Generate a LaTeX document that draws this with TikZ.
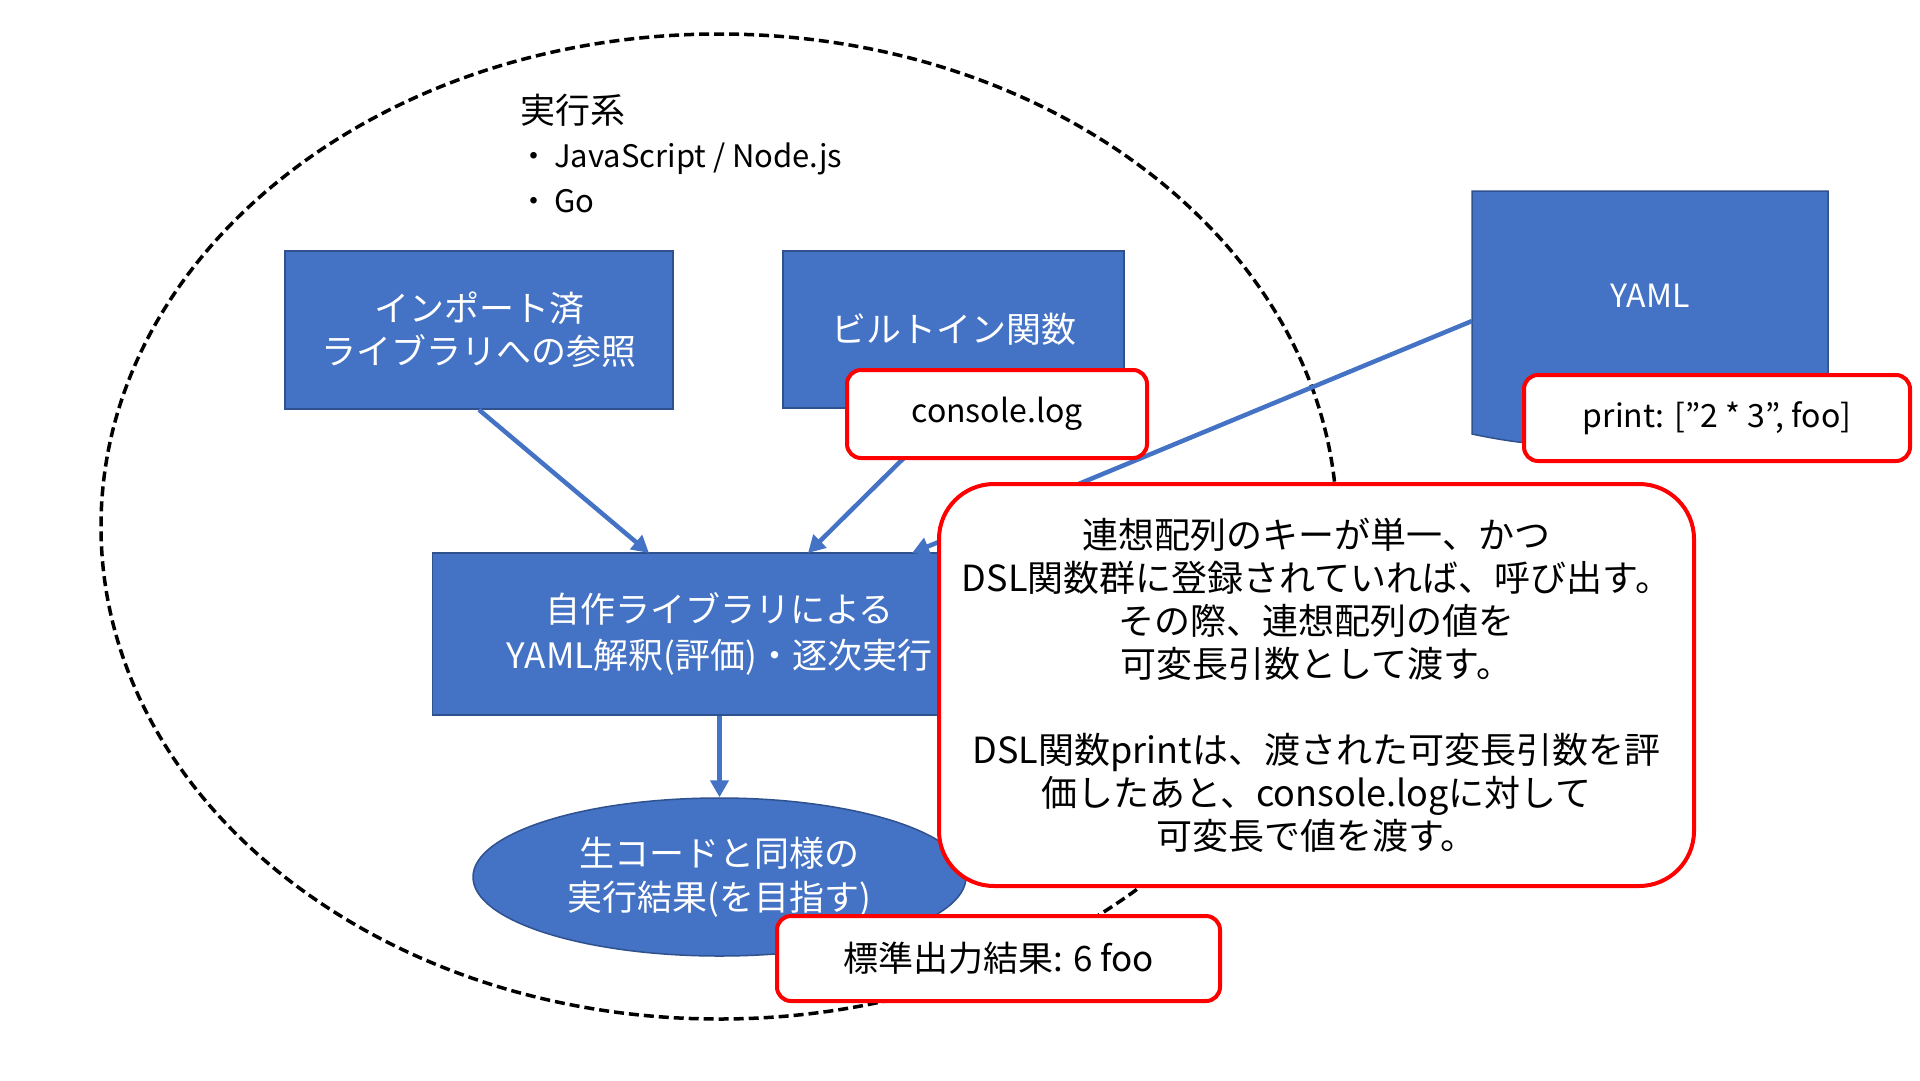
\documentclass[tikz,border=0pt]{standalone}
\usepackage{fontspec}
\setmainfont{Noto Sans CJK JP}
\usetikzlibrary{arrows.meta,shapes.geometric}
\definecolor{pblue}{HTML}{4472C4}
\definecolor{pborder}{HTML}{2F528F}
\definecolor{pred}{HTML}{FF0000}
\begin{document}
\begin{tikzpicture}[x=1pt,y=-1pt,
  bluebox/.style={draw=pborder, line width=1.5pt, fill=pblue, text=white, align=center, inner sep=0pt, font=\fontsize{35}{43}\selectfont},
  redbox/.style={draw=pred, line width=4pt, fill=white, rounded corners=14pt, align=center, inner sep=0pt, text=black},
  flow/.style={draw=pblue, line width=4.5pt, -{Triangle[length=17pt,width=18pt]}},
  plain/.style={anchor=west, inner sep=0pt, text=black},
]
\fill[white] (0,0) rectangle (1920,1080);
\useasboundingbox (0,0) rectangle (1920,1080);

% system boundary
\node[draw=black, dash pattern=on 10pt off 5pt, line width=3.5pt, ellipse, minimum width=1236pt, minimum height=985pt, inner sep=0pt] (sys) at (719,526.5) {};

% title text
\node[plain, font=\fontsize{35}{42}\selectfont] (exectitle) at (520,110) {実行系};
\node[plain, font=\fontsize{31}{40}\selectfont] (execjs) at (518,159) {\makebox[36pt][l]{・}JavaScript / Node.js};
\node[plain, font=\fontsize{31}{40}\selectfont] (execgo) at (518,201) {\makebox[36pt][l]{・}Go};

% blue boxes
\node[bluebox, minimum width=388pt, minimum height=158pt] (imp) at (479,330) {インポート済\\ライブラリへの参照};
\node[bluebox, minimum width=341pt, minimum height=157pt] (builtin) at (953.5,329.5) {ビルトイン関数};

% YAML document shape
\draw[draw=pborder, fill=pblue, line width=1.5pt] (1472,191) -- (1828,191) -- (1828,400) .. controls (1650,400) and (1650,472) .. (1472,434) -- cycle;
\node[inner sep=0pt, text=white, font=\fontsize{32}{40}\selectfont] (yaml) at (1650,296) {YAML};
\coordinate (yamlw) at (1472,321);

\node[bluebox, minimum width=574pt, minimum height=162pt, font=\fontsize{35}{46}\selectfont] (main) at (719.5,634) {自作ライブラリによる\\YAML解釈(評価)・逐次実行};
\node[bluebox, ellipse, minimum width=493pt, minimum height=158pt, font=\fontsize{35}{44}\selectfont] (result) at (719.5,877) {生コードと同様の\\実行結果(を目指す)};

% connectors
\coordinate (t1) at (649,553);
\coordinate (t2) at (808,553);
\coordinate (t3) at (912,553);
\draw[flow] (imp.south) -- (t1);
\draw[flow] (builtin.south) -- (t2);
\draw[flow] (yamlw) -- (t3);
\draw[flow] (main.south) -- (result.north);

% red callouts
\node[redbox, minimum width=300pt, minimum height=88pt, font=\fontsize{32}{40}\selectfont] (console) at (997,414) {console.log};
\node[redbox, minimum width=386pt, minimum height=86pt, font=\fontsize{32}{40}\selectfont] (print) at (1717,418) {print: [”2 * 3”, foo]};
\node[redbox, rounded corners=55pt, minimum width=755pt, minimum height=402pt, font=\fontsize{36}{43}\selectfont] (note) at (1316.5,685) {連想配列のキーが単一、かつ\\DSL関数群に登録されていれば、呼び出す。\\その際、連想配列の値を\\可変長引数として渡す。\\[43pt]DSL関数printは、渡された可変長引数を評\\価したあと、console.logに対して\\可変長で値を渡す。};
\node[redbox, minimum width=443pt, minimum height=85pt, font=\fontsize{35}{42}\selectfont] (stdout) at (998.5,958.5) {標準出力結果: 6 foo};
\end{tikzpicture}
\end{document}
